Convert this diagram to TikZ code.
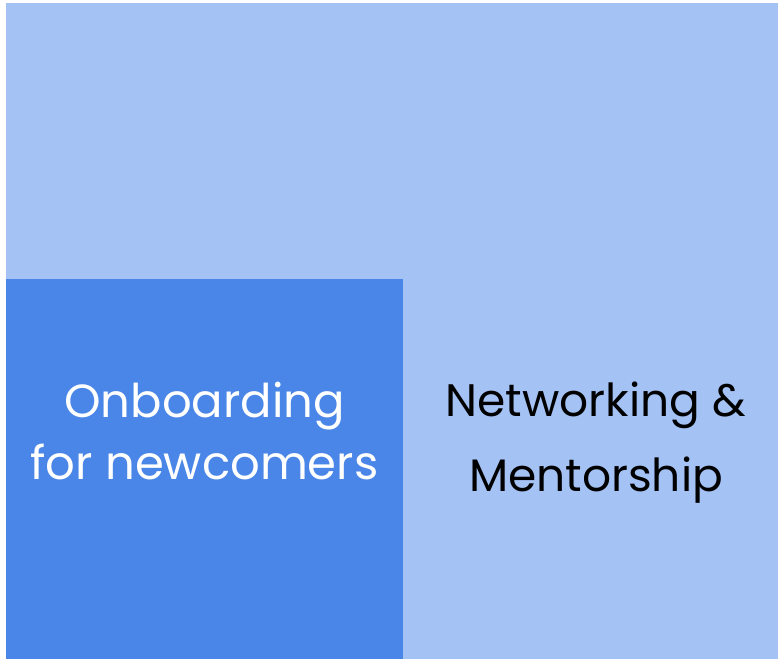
\documentclass[tikz,border=0pt]{standalone}
\usepackage{fontspec}
\setmainfont{Poppins}
\definecolor{tilelight}{HTML}{A4C2F4}
\definecolor{tiledark}{HTML}{4A86E8}
\tikzset{
  tilelabel/.style={align=center, inner sep=0pt},
}
\begin{document}
\begin{tikzpicture}[x=1pt, y=-1pt]
\useasboundingbox (0,0) rectangle (778,661);
% whole area
\fill[tilelight] (6,3) rectangle (778,659);
% onboarding tile
\fill[tiledark] (6,279) rectangle (403,659);
% labels
\node[tilelabel, text=white, font=\fontsize{46.5}{62}\selectfont] (onboard) at (204.5,431) {Onboarding\\for newcomers};
\node[tilelabel, text=black, font=\fontsize{45.5}{75}\selectfont] (mentor) at (596,443) {Networking \&\\Mentorship};
\end{tikzpicture}
\end{document}
